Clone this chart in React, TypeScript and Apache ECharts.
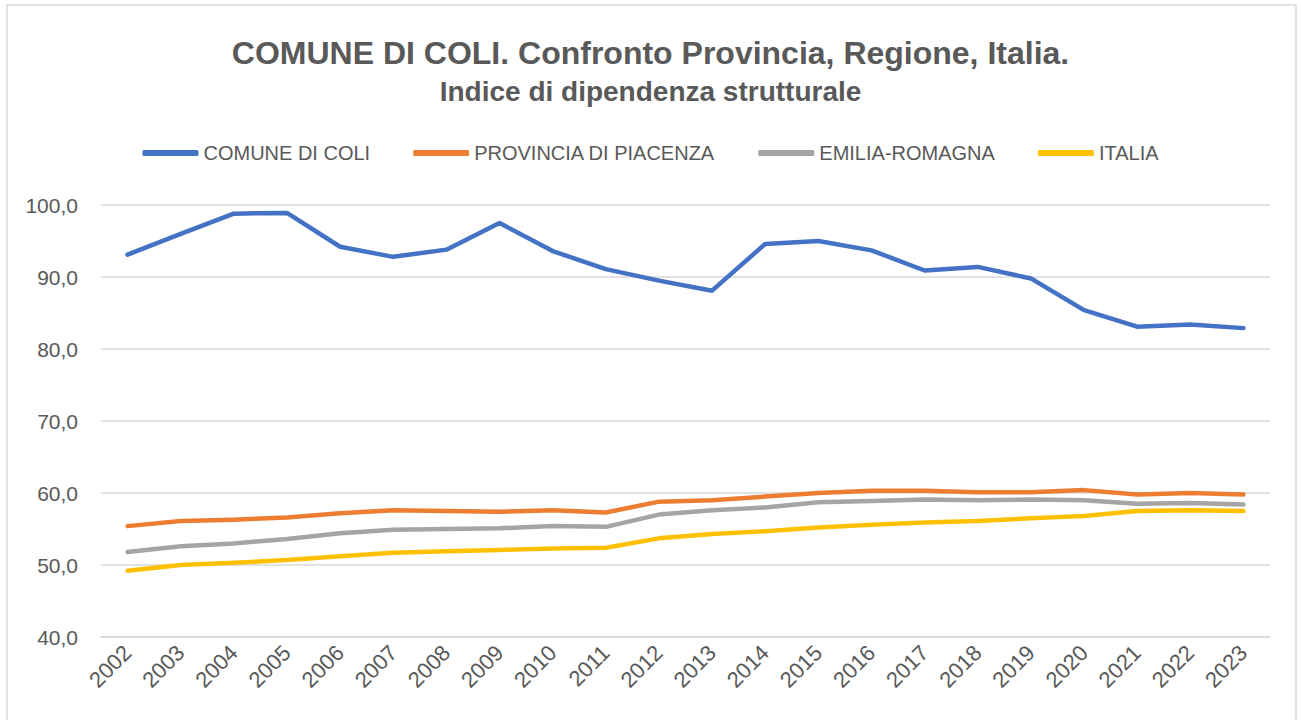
import React, { useEffect, useRef } from "react";
import * as echarts from "echarts";

const years = ["2002","2003","2004","2005","2006","2007","2008","2009","2010","2011","2012","2013","2014","2015","2016","2017","2018","2019","2020","2021","2022","2023"];
const comune = [93.1, 96.0, 98.8, 98.9, 94.2, 92.8, 93.8, 97.5, 93.6, 91.1, 89.5, 88.1, 94.6, 95.0, 93.7, 90.9, 91.4, 89.8, 85.4, 83.1, 83.4, 82.9];
const provincia = [55.4, 56.1, 56.3, 56.6, 57.2, 57.6, 57.5, 57.4, 57.6, 57.3, 58.8, 59.0, 59.5, 60.0, 60.3, 60.3, 60.1, 60.1, 60.4, 59.8, 60.0, 59.8];
const emilia = [51.8, 52.6, 53.0, 53.6, 54.4, 54.9, 55.0, 55.1, 55.4, 55.3, 57.0, 57.6, 58.0, 58.7, 58.9, 59.1, 59.0, 59.1, 59.0, 58.5, 58.6, 58.4];
const italia = [49.2, 50.0, 50.3, 50.7, 51.2, 51.7, 51.9, 52.1, 52.3, 52.4, 53.7, 54.3, 54.7, 55.2, 55.6, 55.9, 56.1, 56.5, 56.8, 57.5, 57.6, 57.5];

const seriesNames = ["COMUNE DI COLI", "PROVINCIA DI PIACENZA", "EMILIA-ROMAGNA", "ITALIA"];
const seriesColors = ["#4472C4", "#ED7D31", "#A5A5A5", "#FFC000"];
const seriesData = [comune, provincia, emilia, italia];

const FONT = "'Liberation Sans', Arial, sans-serif";
const TEXT = "#595959";

export default function App() {
  const ref = useRef<HTMLDivElement>(null);
  useEffect(() => {
    document.body.style.margin = "0";
    if (!ref.current) return;
    const chart = echarts.init(ref.current, undefined, { renderer: "svg" });
    chart.setOption({
      animation: false,
      backgroundColor: "#ffffff",
      textStyle: { fontFamily: FONT },
      graphic: [
        {
          type: "rect",
          shape: { x: 7, y: 5, width: 1289, height: 730 },
          style: { fill: "none", stroke: "#d9d9d9", lineWidth: 1.5 },
          silent: true,
        },
      ],
      title: [
        {
          text: "COMUNE DI COLI. Confronto Provincia, Regione, Italia.",
          left: "center",
          top: 32,
          textStyle: { fontFamily: FONT, fontSize: 32, fontWeight: "bold", color: TEXT },
        },
        {
          text: "Indice di dipendenza strutturale",
          left: "center",
          top: 72,
          textStyle: { fontFamily: FONT, fontSize: 28, fontWeight: "bold", color: TEXT },
        },
      ],
      legend: {
        top: 138,
        left: "center",
        icon: "roundRect",
        itemWidth: 56,
        itemHeight: 6,
        itemGap: 43,
        textStyle: { fontFamily: FONT, fontSize: 20, color: TEXT },
        data: seriesNames,
      },
      grid: { left: 101, right: 31, top: 205, bottom: 83, containLabel: false },
      xAxis: {
        type: "category",
        data: years,
        boundaryGap: true,
        axisLine: { show: true, lineStyle: { color: "#d9d9d9", width: 1.5 } },
        axisTick: { show: false },
        axisLabel: { rotate: 45, color: TEXT, fontSize: 22, fontFamily: FONT, margin: 12, interval: 0 },
      },
      yAxis: {
        type: "value",
        min: 40,
        max: 100,
        interval: 10,
        axisLine: { show: false },
        axisTick: { show: false },
        splitLine: { lineStyle: { color: "#d9d9d9", width: 1.5 } },
        axisLabel: {
          color: TEXT,
          fontSize: 21,
          fontFamily: FONT,
          margin: 23,
          formatter: (v: number) => v.toFixed(1).replace(".", ","),
        },
      },
      series: seriesNames.map((name, i) => ({
        name,
        type: "line",
        data: seriesData[i],
        symbol: "none",
        color: seriesColors[i],
        lineStyle: { color: seriesColors[i], width: 4.5, cap: "round", join: "round" },
      })),
    });
    return () => chart.dispose();
  }, []);
  return <div ref={ref} style={{ width: 1301, height: 720 }} />;
}
